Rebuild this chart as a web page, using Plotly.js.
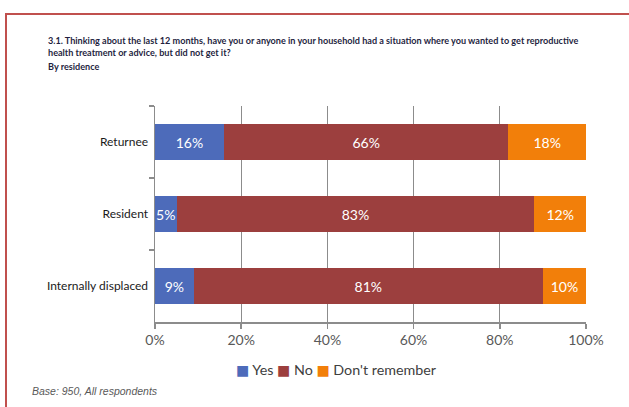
<!DOCTYPE html>
<html>
<head>
<meta charset="utf-8">
<script src="https://cdn.plot.ly/plotly-3.0.1.min.js"></script>
<style>
html,body{margin:0;padding:0;background:#fff;}
#chart{width:629px;height:407px;}
</style>
</head>
<body>
<div id="chart"></div>
<script>
const categories = ["Returnee", "Resident", "Internally displaced"];
const yesValues = [16, 5, 9];
const noValues = [66, 83, 81];
const dontRememberValues = [18, 12, 10];
const seriesNames = ["Yes", "No", "Don't remember"];
const seriesColors = ["#4D6BBA", "#9C3F3E", "#F27F0A"];
const xTickVals = [0, 20, 40, 60, 80, 100];
const xTickText = ["0%", "20%", "40%", "60%", "80%", "100%"];

const W = 629, H = 407;
const mL = 155, mR = 43, mT = 106, mB = 85;
const pw = W - mL - mR, ph = H - mT - mB;
const px = x => (x - mL) / pw;
const py = y => (H - mB - y) / ph;

const FONT = "Lato, 'Open Sans', sans-serif";

const series = [yesValues, noValues, dontRememberValues];
const data = series.map((vals, i) => ({
  type: "bar",
  orientation: "h",
  name: seriesNames[i],
  y: categories,
  x: vals,
  width: 0.5,
  marker: {color: seriesColors[i], line: {width: 0}},
  text: vals.map(v => v + "%"),
  textposition: "inside",
  insidetextanchor: "middle",
  textangle: 0,
  constraintext: "none",
  textfont: {family: FONT, size: 14, color: "#ffffff"},
  hoverinfo: "skip",
  showlegend: false
}));

const titleLines = [
  "3.1. Thinking about the last 12 months, have you or anyone in your household had a situation where you wanted to get reproductive",
  "health treatment or advice, but did not get it?",
  "By residence"
];
const titleYs = [40, 53, 66];
const annotations = titleLines.map((t, i) => ({
  xref: "paper", yref: "paper",
  x: px(46), y: py(titleYs[i]),
  xanchor: "left", yanchor: "middle",
  text: "<b>" + t + "</b>",
  showarrow: false,
  font: {family: FONT, size: 9.1, color: "#1F1F3F"}
}));
annotations.push({
  xref: "paper", yref: "paper",
  x: px(30), y: py(391),
  xanchor: "left", yanchor: "middle",
  text: "<i>Base: 950, All respondents</i>",
  showarrow: false,
  font: {family: "'Liberation Sans', Arial, sans-serif", size: 10.5, color: "#595959"}
});
// legend built from series names and colours
annotations.push({
  xref: "paper", yref: "paper",
  x: px(234), y: py(369),
  xanchor: "left", yanchor: "middle",
  showarrow: false,
  text: seriesNames.map((n, i) =>
    '<span style="color:' + seriesColors[i] + ';font-size:14px;font-family:DejaVu Sans">■</span> ' + n
  ).join(" "),
  font: {family: FONT, size: 14.3, color: "#404040"}
});

const layout = {
  width: W, height: H,
  margin: {l: mL, r: mR, t: mT, b: mB, pad: 0},
  paper_bgcolor: "#ffffff",
  plot_bgcolor: "#ffffff",
  barmode: "stack",
  showlegend: false,
  xaxis: {
    range: [0, 100],
    tickvals: xTickVals,
    ticktext: xTickText,
    showgrid: true,
    gridcolor: "#8C8C8C",
    gridwidth: 1,
    zeroline: false,
    showline: true,
    linecolor: "#8C8C8C",
    linewidth: 1.5,
    ticks: "outside",
    ticklen: 5,
    tickcolor: "#8C8C8C",
    tickwidth: 1.5,
    tickfont: {family: FONT, size: 14, color: "#595959"},
    fixedrange: true
  },
  yaxis: {
    type: "category",
    categoryorder: "array",
    categoryarray: categories,
    autorange: "reversed",
    showline: true,
    linecolor: "#8C8C8C",
    linewidth: 1.5,
    ticks: "outside",
    tickson: "boundaries",
    ticklen: 5,
    tickcolor: "#8C8C8C",
    tickwidth: 1.5,
    ticklabelstandoff: 3,
    showgrid: false,
    tickfont: {family: FONT, size: 12, color: "#1A1A1A"},
    fixedrange: true
  },
  shapes: [{
    type: "path",
    xref: "paper", yref: "paper",
    path: `M ${px(6)} ${py(420)} L ${px(6)} ${py(14)} L ${px(640)} ${py(14)}`,
    line: {color: "#C0504D", width: 2}
  }],
  annotations: annotations
};

Plotly.newPlot("chart", data, layout, {displayModeBar: false, staticPlot: true});
</script>
</body>
</html>
